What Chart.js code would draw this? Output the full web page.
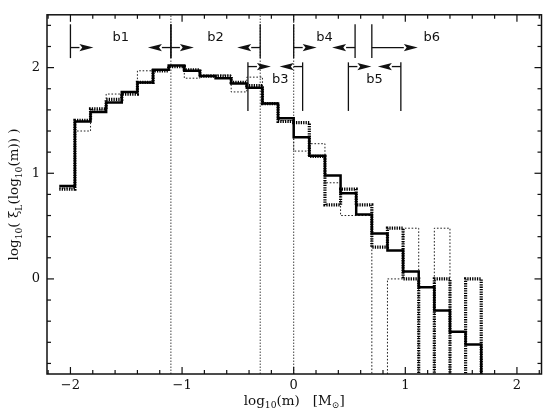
<!DOCTYPE html>
<html>
<head>
<meta charset="utf-8">
<script src="https://cdn.jsdelivr.net/npm/chart.js@4.4.1/dist/chart.umd.min.js"></script>
<style>
  html, body { margin: 0; padding: 0; background: #fff; }
</style>
</head>
<body>
<canvas id="imf" width="550" height="418"></canvas>
<script>
// bin edges in log10(m) (bin width 0.14)
const binEdges = [-2.10, -1.96, -1.82, -1.68, -1.54, -1.40, -1.26, -1.12, -0.98,
  -0.84, -0.70, -0.56, -0.42, -0.28, -0.14, 0.00, 0.14, 0.28, 0.42, 0.56, 0.70,
  0.84, 0.98, 1.12, 1.26, 1.40, 1.54, 1.68];

// log10 of the luminosity function per bin, null = empty bin
const meanValues = [0.88, 1.49, 1.58, 1.67, 1.77, 1.86, 1.98, 2.02, 1.97, 1.92,
  1.90, 1.85, 1.81, 1.66, 1.52, 1.34, 1.165, 0.98, 0.81, 0.61, 0.43, 0.27, 0.07,
  -0.08, -0.30, -0.50, -0.62];
const sampleA = [0.85, 1.50, 1.61, 1.70, 1.75, 1.86, 1.97, 2.01, 1.98, 1.92,
  1.92, 1.86, 1.83, 1.66, 1.49, 1.48, 1.16, 0.70, 0.85, 0.70, 0.30, 0.48, 0.00,
  null, 0.00, null, 0.00];
const sampleB = [0.86, 1.40, 1.60, 1.75, 1.77, 1.97, 1.98, 2.02, 1.90, 1.93,
  1.93, 1.77, 1.91, 1.66, 1.50, 1.21, 1.28, 0.91, 0.60, 0.60, null, 0.00, 0.48,
  null, 0.48, null, null];

// mass cuts drawn as dotted verticals
const cutValues = [-1.1, -0.3, 0.0];

// mass ranges b1..b6 (null = open to the right)
const bracketNames = ["b1", "b2", "b3", "b4", "b5", "b6"];
const bracketFrom = [-2.00, -1.10, -0.41, 0.00, 0.49, 0.70];
const bracketTo = [-1.10, -0.30, 0.08, 0.55, 0.96, null];

const xTickValues = [-2, -1, 0, 1, 2];
const yTickValues = [0, 1, 2];

const X_MIN = -2.21, X_MAX = 2.22;
const Y_MIN = -0.9, Y_MAX = 2.5;
const FLOOR = -5; // empty bins fall below the axis

function histogramPoints(values) {
  const pts = values.map((v, i) => ({ x: binEdges[i], y: v === null ? FLOOR : v }));
  pts.push({ x: binEdges[values.length], y: FLOOR });
  return pts;
}

const serif = "'DejaVu Serif', 'Liberation Serif', serif";
const sans = "'DejaVu Sans', 'Liberation Sans', sans-serif";

function drawRich(ctx, parts, x, y, size) {
  const sub = size * 0.68;
  let w = 0;
  parts.forEach((p) => {
    ctx.font = (p.sub ? sub : size) + "px " + serif;
    w += ctx.measureText(p.t).width;
  });
  let cx = x - w / 2;
  parts.forEach((p) => {
    ctx.font = (p.sub ? sub : size) + "px " + serif;
    ctx.fillText(p.t, cx, p.sub ? y + size * 0.28 : y);
    cx += ctx.measureText(p.t).width;
  });
}

function arrow(ctx, x0, x1, y) {
  const dir = Math.sign(x1 - x0);
  const head = 14, half = 3.6;
  ctx.beginPath();
  ctx.moveTo(x0, y);
  ctx.lineTo(x1 - dir * head, y);
  ctx.stroke();
  ctx.beginPath();
  ctx.moveTo(x1, y);
  ctx.lineTo(x1 - dir * head, y - half);
  ctx.lineTo(x1 - dir * head * 0.8, y);
  ctx.lineTo(x1 - dir * head, y + half);
  ctx.closePath();
  ctx.fill();
}

const framePlugin = {
  id: "frame",
  afterDraw(chart) {
    const { ctx, chartArea: a, scales: { x, y } } = chart;
    ctx.save();
    ctx.strokeStyle = "#111";
    ctx.fillStyle = "#111";

    ctx.lineWidth = 1.5;
    ctx.strokeRect(a.left, a.top, a.right - a.left, a.bottom - a.top);

    // inward ticks on all four sides
    const minorStep = 0.2;
    ctx.lineWidth = 1.2;
    const seg = (x0, y0, x1, y1) => {
      ctx.beginPath(); ctx.moveTo(x0, y0); ctx.lineTo(x1, y1); ctx.stroke();
    };
    for (let k = Math.ceil(x.min / minorStep); k * minorStep <= x.max; k++) {
      const v = k * minorStep;
      const px = x.getPixelForValue(v);
      const len = Math.abs(v - Math.round(v)) < 1e-6 ? 7 : 4;
      seg(px, a.bottom, px, a.bottom - len);
      seg(px, a.top, px, a.top + len);
    }
    for (let k = Math.ceil(y.min / minorStep); k * minorStep <= y.max; k++) {
      const v = k * minorStep;
      const py = y.getPixelForValue(v);
      const len = Math.abs(v - Math.round(v)) < 1e-6 ? 7 : 4;
      seg(a.left, py, a.left + len, py);
      seg(a.right, py, a.right - len, py);
    }

    // b1..b6 mass range brackets
    const rows = {
      upper: { top: 2.41, bottom: 2.09, arrow: 2.19, label: 2.28 },
      lower: { top: 2.05, bottom: 1.59, arrow: 2.01, label: 1.89 }
    };
    const lowerRow = ["b3", "b5"];
    const arrowLen = 23;
    ctx.lineWidth = 1.3;
    ctx.font = "13px " + sans;
    ctx.textAlign = "center";
    ctx.textBaseline = "middle";
    bracketNames.forEach((name, i) => {
      const r = lowerRow.includes(name) ? rows.lower : rows.upper;
      const yTop = y.getPixelForValue(r.top);
      const yBot = y.getPixelForValue(r.bottom);
      const yArr = y.getPixelForValue(r.arrow);
      const x0 = x.getPixelForValue(bracketFrom[i]);
      seg(x0, yTop, x0, yBot);
      let xLabel;
      if (bracketTo[i] === null) {
        arrow(ctx, x0, x0 + arrowLen * 2, yArr);
        xLabel = x0 + arrowLen * 2 + 14;
      } else {
        const x1 = x.getPixelForValue(bracketTo[i]);
        seg(x1, yTop, x1, yBot);
        arrow(ctx, x0, x0 + arrowLen, yArr);
        arrow(ctx, x1, x1 - arrowLen, yArr);
        xLabel = (x0 + x1) / 2 + (name === "b3" ? 5 : 0);
      }
      ctx.fillText(name, xLabel, y.getPixelForValue(r.label));
    });

    // axis titles with subscripts
    ctx.textAlign = "left";
    ctx.textBaseline = "alphabetic";
    drawRich(ctx, [
      { t: "log" }, { t: "10", sub: true }, { t: "(m)   [M" }, { t: "\u2299", sub: true }, { t: "]" }
    ], (a.left + a.right) / 2, 404.5, 13.5);

    ctx.translate(18, (a.top + a.bottom) / 2);
    ctx.rotate(-Math.PI / 2);
    drawRich(ctx, [
      { t: "log" }, { t: "10", sub: true }, { t: "( \u03BE" }, { t: "L", sub: true },
      { t: "(log" }, { t: "10", sub: true }, { t: "(m)) )" }
    ], 0, 0, 13.5);
    ctx.restore();
  }
};

const histStyle = { stepped: true, pointRadius: 0, fill: false, borderColor: "#000" };

const datasets = [
  { ...histStyle, data: histogramPoints(meanValues), borderWidth: 2.5 },
  { ...histStyle, data: histogramPoints(sampleA), borderWidth: 3.2, borderDash: [1.3, 1.1] },
  { ...histStyle, data: histogramPoints(sampleB), borderWidth: 1, borderDash: [1.6, 1.8], borderColor: "#222" }
];
cutValues.forEach((c) => {
  datasets.push({
    data: [{ x: c, y: Y_MIN }, { x: c, y: Y_MAX }],
    borderColor: "#444", borderWidth: 1, borderDash: [1.5, 1.5], pointRadius: 0, fill: false
  });
});

new Chart(document.getElementById("imf"), {
  type: "line",
  data: { datasets },
  options: {
    responsive: false,
    animation: false,
    events: [],
    layout: { padding: { left: 0, right: 8.5, top: 9.5, bottom: 0 } },
    plugins: { legend: { display: false }, tooltip: { enabled: false } },
    scales: {
      x: {
        type: "linear",
        min: X_MIN,
        max: X_MAX,
        grid: { display: false, drawTicks: false },
        border: { display: false },
        afterBuildTicks: (s) => { s.ticks = xTickValues.map((value) => ({ value })); },
        afterFit: (s) => { s.height = 44; },
        ticks: {
          color: "#111",
          padding: 4,
          maxRotation: 0,
          font: { family: serif, size: 13 },
          callback: (v) => (v < 0 ? "\u2212" + Math.abs(v) : String(v))
        }
      },
      y: {
        type: "linear",
        min: Y_MIN,
        max: Y_MAX,
        grid: { display: false, drawTicks: false },
        border: { display: false },
        afterBuildTicks: (s) => { s.ticks = yTickValues.map((value) => ({ value })); },
        afterFit: (s) => { s.width = 47; },
        ticks: {
          color: "#111",
          padding: 7,
          font: { family: serif, size: 13 },
          callback: (v) => String(v)
        }
      }
    }
  },
  plugins: [framePlugin]
});
</script>
</body>
</html>
